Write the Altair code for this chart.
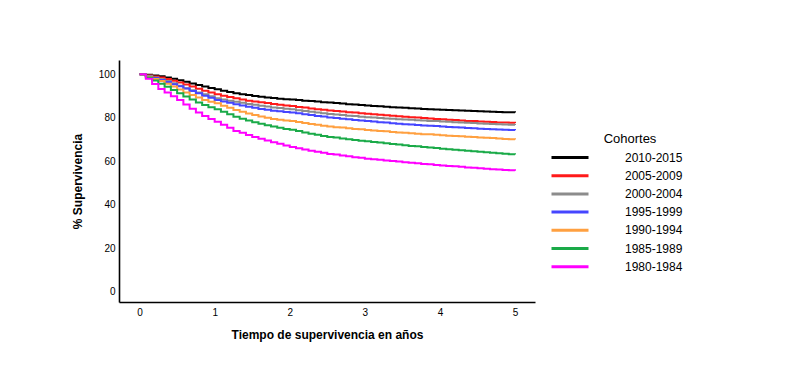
import altair as alt
import pandas as pd

cohorts = ["2010-2015", "2005-2009", "2000-2004", "1995-1999",
           "1990-1994", "1985-1989", "1980-1984"]
colors = ["#000000", "#ff1a1a", "#8c8c8c", "#4646ff",
          "#ffa040", "#1aaa48", "#ff00ff"]

# survival (%) at monthly steps, month 0 .. 60
s_2010_2015 = [100.0, 99.8, 99.5, 99.1, 98.6, 98.0, 97.3, 96.6, 95.8, 95.1, 94.4, 93.7,
               93.1, 92.5, 91.9, 91.3, 90.9, 90.5, 90.1, 89.7, 89.4, 89.1, 88.8, 88.6,
               88.4, 88.2, 87.9, 87.7, 87.5, 87.2, 87.0, 86.8, 86.6, 86.3, 86.1, 85.9,
               85.7, 85.5, 85.3, 85.1, 84.9, 84.8, 84.6, 84.4, 84.3, 84.1, 84.0, 83.8,
               83.7, 83.6, 83.5, 83.4, 83.3, 83.1, 83.0, 82.9, 82.8, 82.7, 82.6, 82.6, 82.5]
s_2005_2009 = [100.0, 99.5, 99.0, 98.5, 97.9, 97.1, 96.2, 95.3, 94.4, 93.4, 92.5, 91.7,
               90.9, 90.2, 89.6, 89.0, 88.4, 87.9, 87.5, 87.2, 86.8, 86.4, 86.0, 85.7,
               85.4, 85.0, 84.7, 84.3, 84.0, 83.7, 83.4, 83.1, 82.9, 82.6, 82.4, 82.1,
               81.9, 81.7, 81.4, 81.2, 81.0, 80.7, 80.5, 80.3, 80.1, 79.9, 79.7, 79.5,
               79.3, 79.1, 79.0, 78.8, 78.6, 78.5, 78.3, 78.2, 78.1, 77.9, 77.8, 77.7, 77.6]
s_2000_2004 = [100.0, 99.3, 98.6, 97.8, 96.9, 95.9, 94.8, 93.6, 92.7, 91.7, 90.8, 89.9,
               89.0, 88.4, 87.9, 87.4, 86.9, 86.4, 86.0, 85.6, 85.2, 84.8, 84.5, 84.2,
               83.9, 83.5, 83.1, 82.8, 82.4, 82.1, 81.8, 81.5, 81.3, 81.0, 80.8, 80.5,
               80.3, 80.1, 79.9, 79.7, 79.6, 79.4, 79.2, 79.1, 78.9, 78.8, 78.6, 78.5,
               78.3, 78.2, 78.0, 77.9, 77.7, 77.6, 77.4, 77.3, 77.2, 77.1, 76.9, 76.8, 76.7]
s_1995_1999 = [100.0, 99.2, 98.3, 97.4, 96.5, 95.5, 94.5, 93.5, 92.4, 91.3, 90.2, 89.2,
               88.2, 87.5, 86.9, 86.3, 85.7, 85.1, 84.6, 84.1, 83.7, 83.3, 83.0, 82.7,
               82.5, 82.1, 81.7, 81.3, 80.9, 80.6, 80.2, 79.9, 79.6, 79.3, 79.0, 78.8,
               78.5, 78.3, 78.0, 77.8, 77.5, 77.3, 77.1, 76.9, 76.7, 76.5, 76.4, 76.2,
               76.0, 75.8, 75.7, 75.5, 75.3, 75.2, 75.0, 74.9, 74.8, 74.6, 74.5, 74.4, 74.3]
s_1990_1994 = [100.0, 99.0, 97.9, 96.9, 95.7, 94.4, 93.0, 91.7, 90.5, 89.3, 88.2, 87.4,
               86.7, 85.6, 84.6, 83.6, 82.8, 82.0, 81.3, 80.6, 80.0, 79.5, 79.1, 78.8,
               78.6, 78.1, 77.6, 77.2, 76.8, 76.4, 76.0, 75.7, 75.5, 75.2, 74.9, 74.7,
               74.4, 74.2, 74.0, 73.8, 73.5, 73.3, 73.1, 72.9, 72.7, 72.5, 72.4, 72.2,
               72.0, 71.8, 71.7, 71.5, 71.3, 71.2, 71.0, 70.8, 70.7, 70.5, 70.3, 70.2, 70.0]
s_1985_1989 = [100.0, 98.6, 97.2, 95.7, 94.3, 92.8, 91.3, 89.8, 88.4, 87.1, 85.9, 84.9,
               83.9, 82.8, 81.6, 80.5, 79.6, 78.8, 78.0, 77.3, 76.6, 76.0, 75.4, 74.9,
               74.5, 73.9, 73.3, 72.7, 72.2, 71.7, 71.2, 70.9, 70.5, 70.2, 69.8, 69.5,
               69.2, 68.9, 68.6, 68.3, 68.0, 67.7, 67.4, 67.1, 66.9, 66.6, 66.3, 66.1,
               65.8, 65.6, 65.3, 65.1, 64.9, 64.6, 64.4, 64.2, 64.0, 63.7, 63.5, 63.3, 63.1]
s_1980_1984 = [100.0, 98.0, 95.6, 93.3, 91.6, 89.9, 88.2, 86.1, 84.2, 82.4, 80.9, 79.5,
               78.2, 76.8, 75.4, 74.0, 73.1, 72.1, 71.2, 70.4, 69.6, 68.8, 68.1, 67.3,
               66.6, 66.0, 65.4, 64.9, 64.4, 63.9, 63.4, 63.1, 62.7, 62.3, 61.9, 61.6,
               61.2, 60.9, 60.7, 60.4, 60.1, 59.9, 59.6, 59.3, 59.1, 58.8, 58.6, 58.3,
               58.1, 57.9, 57.7, 57.5, 57.2, 57.0, 56.8, 56.6, 56.4, 56.2, 56.0, 55.9, 55.7]

x_ticks = [0, 1, 2, 3, 4, 5]
y_ticks = [0, 20, 40, 60, 80, 100]

series = [s_2010_2015, s_2005_2009, s_2000_2004, s_1995_1999,
          s_1990_1994, s_1985_1989, s_1980_1984]

rows = []
for c, vals in zip(cohorts, series):
    for m, v in enumerate(vals):
        rows.append({"cohorte": c, "t": m / 12.0, "s": v})
df = pd.DataFrame(rows)

chart = alt.Chart(df).mark_line(interpolate="step-after", strokeWidth=2).encode(
    x=alt.X("t:Q", title="Tiempo de supervivencia en años",
            scale=alt.Scale(domain=[-0.274, 5.266], nice=False, zero=False),
            axis=alt.Axis(values=x_ticks, format="d", labelPadding=5, titlePadding=12)),
    y=alt.Y("s:Q", title="% Supervivencia",
            scale=alt.Scale(domain=[-4.7, 106.6], nice=False, zero=False),
            axis=alt.Axis(values=y_ticks, format="d", labelPadding=4, titlePadding=14)),
    color=alt.Color("cohorte:N", title="Cohortes",
                    scale=alt.Scale(domain=cohorts, range=colors),
                    legend=alt.Legend(orient="none", legendX=458, legendY=73,
                                      symbolType="M-6.4,0H1", symbolStrokeWidth=3,
                                      symbolSize=100, labelOffset=35,
                                      labelFontSize=12, titleFontSize=13,
                                      titleFontWeight="normal", titleAnchor="middle",
                                      padding=0, rowPadding=5.2, titlePadding=5,
                                      labelColor="black", titleColor="black",
                                      labelFont="Arial", titleFont="Arial")),
).properties(
    width=416, height=242,
    autosize=alt.AutoSizeParams(type="none"),
    padding={"left": 111, "top": 52, "right": 250, "bottom": 60},
).configure_view(stroke=None).configure_axis(
    grid=False, ticks=False, domainColor="black", domainWidth=1.6,
    labelFont="Arial", labelFontSize=10, labelColor="black",
    titleFont="Arial", titleFontSize=12, titleFontWeight="bold", titleColor="black",
)

chart.save("out.html", embed_options={"renderer": "svg", "actions": False})
